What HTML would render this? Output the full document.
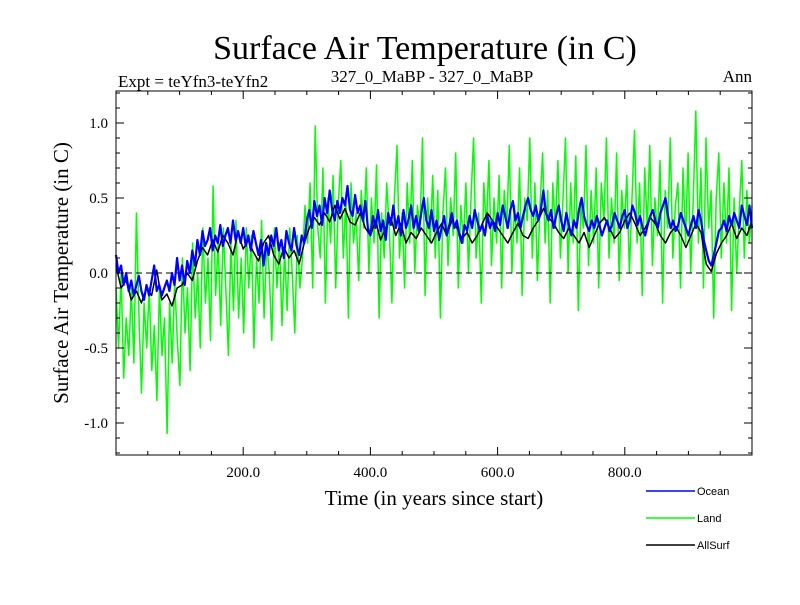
<!DOCTYPE html>
<html><head><meta charset="utf-8"><style>
body{margin:0;background:#fff;}
svg text{font-family:"Liberation Serif",serif;}
</style></head><body>
<svg id="chart" width="800" height="600">
<text x="425" y="59" font-size="34" text-anchor="middle">Surface Air Temperature (in C)</text>
<text x="118" y="87" font-size="17">Expt = teYfn3-teYfn2</text>
<text x="432" y="82" font-size="17" text-anchor="middle">327_0_MaBP - 327_0_MaBP</text>
<text x="752" y="82" font-size="17" text-anchor="end">Ann</text>
<text x="434" y="505" font-size="21" text-anchor="middle">Time (in years since start)</text>
<text transform="translate(68,273) rotate(-90)" font-size="21" text-anchor="middle">Surface Air Temperature (in C)</text>
<g id="plot"></g>
<g id="axes"></g>
<g>
<line x1="646" y1="491" x2="695" y2="491" stroke="#0000ff" stroke-width="1.5"/>
<text x="697" y="495" font-size="11" style="font-family:'Liberation Sans',sans-serif">Ocean</text>
<line x1="646" y1="518" x2="695" y2="518" stroke="#00ff00" stroke-width="1.5"/>
<text x="697" y="522" font-size="11" style="font-family:'Liberation Sans',sans-serif">Land</text>
<line x1="646" y1="545" x2="695" y2="545" stroke="#000" stroke-width="1.5"/>
<text x="697" y="549" font-size="11" style="font-family:'Liberation Sans',sans-serif">AllSurf</text>
</g>
</svg>
<script>
const xTicks=[200,400,600,800];
const xTickLabels=["200.0","400.0","600.0","800.0"];
const yTicks=[1.0,0.5,0.0,-0.5,-1.0];
const yTickLabels=["1.0","0.5","0.0","-0.5","-1.0"];
const land=[-0.1,-0.5,0.0,-0.7,-0.3,-0.55,-0.1,-0.6,0.4,-0.3,-0.8,-0.2,-0.5,-0.1,-0.65,-0.35,-0.85,-0.1,-0.55,-0.3,-1.07,-0.2,-0.6,-0.05,-0.45,
-0.75,0.1,-0.4,-0.1,-0.65,0.2,-0.3,0.0,-0.5,0.3,-0.2,0.1,-0.45,0.58,-0.15,0.2,-0.35,0.3,-0.1,-0.55,0.2,-0.25,0.35,-0.3,0.1,
-0.4,0.3,-0.1,0.25,-0.5,0.1,-0.2,0.35,-0.3,0.2,0.0,-0.45,0.3,-0.1,0.2,-0.35,0.15,-0.25,0.3,0.0,-0.4,0.25,-0.1,0.1,0.45,
0.2,0.6,-0.1,0.98,0.3,0.1,0.7,-0.2,0.5,0.2,0.65,-0.1,0.45,0.75,0.1,0.5,-0.3,0.6,0.2,0.4,-0.05,0.55,0.3,0.7,0.0,
0.5,0.2,0.72,-0.3,0.4,0.1,0.6,0.3,-0.2,0.5,0.85,0.1,0.4,-0.1,0.6,0.2,0.75,0.0,0.45,0.3,0.9,-0.15,0.5,0.2,0.65,
0.1,0.55,-0.3,0.4,0.7,0.05,0.5,0.25,0.8,-0.1,0.45,0.2,0.6,0.0,0.5,0.9,0.1,0.4,-0.2,0.6,0.3,0.75,0.05,0.5,0.2,
0.65,-0.1,0.55,0.3,0.85,0.0,0.45,0.2,0.7,-0.15,0.5,0.35,0.9,0.1,0.6,-0.05,0.45,0.8,0.2,0.55,-0.2,0.6,0.3,0.75,0.1,
0.5,0.9,0.0,0.6,0.2,0.78,-0.25,0.45,0.3,0.85,0.05,0.55,0.2,0.7,-0.1,0.6,0.35,0.9,0.1,0.5,0.2,0.8,-0.05,0.55,0.3,
0.65,0.0,0.5,0.95,0.2,0.6,-0.15,0.7,0.3,0.85,0.05,0.5,0.25,0.75,-0.2,0.55,0.3,0.9,0.1,0.45,0.6,-0.1,0.7,0.2,0.8,
0.0,0.5,1.08,0.2,0.7,-0.1,0.9,0.3,0.55,-0.3,0.5,0.8,0.1,0.6,0.2,0.7,-0.25,0.5,0.0,0.4,0.75,0.1,0.55,0.2,0.45];
const allSurf=[0.05,-0.1,-0.05,-0.18,-0.12,-0.2,-0.1,-0.15,0.02,-0.18,-0.14,-0.22,-0.1,-0.08,0.0,-0.05,0.08,0.17,0.12,0.22,0.14,0.25,0.2,0.12,0.27,0.16,0.22,0.14,0.08,0.2,0.25,0.12,0.06,0.17,0.1,0.15,0.06,0.2,0.3,0.37,0.32,0.4,0.34,0.45,0.36,0.43,0.34,0.32,0.4,0.3,0.25,0.35,0.22,0.3,0.37,0.25,0.33,0.2,0.27,0.23,0.3,0.25,0.2,0.27,0.33,0.25,0.35,0.3,0.23,0.27,0.2,0.25,0.33,0.4,0.35,0.3,0.25,0.2,0.27,0.33,0.25,0.23,0.3,0.35,0.43,0.37,0.33,0.27,0.23,0.3,0.25,0.2,0.27,0.17,0.25,0.33,0.37,0.3,0.23,0.27,0.35,0.4,0.33,0.25,0.3,0.37,0.33,0.25,0.2,0.27,0.31,0.25,0.17,0.25,0.33,0.27,0.06,0.01,0.13,0.2,0.25,0.33,0.23,0.3,0.25,0.35];
const ocean=[0.12,0.0,0.05,-0.08,0.0,-0.12,-0.05,-0.15,-0.08,-0.02,-0.12,-0.18,-0.08,-0.15,-0.05,0.05,-0.12,-0.08,-0.15,-0.1,-0.05,-0.12,0.0,-0.08,0.1,
-0.05,0.05,-0.08,0.08,0.0,0.15,0.05,0.22,0.12,0.28,0.18,0.22,0.3,0.15,0.25,0.2,0.32,0.18,0.25,0.3,0.2,0.35,0.22,0.28,0.2,
0.3,0.18,0.25,0.15,0.28,0.2,0.12,0.22,0.05,0.2,0.12,0.25,0.18,0.3,0.15,0.22,0.1,0.28,0.2,0.15,0.3,0.18,0.12,0.25,0.2,
0.35,0.42,0.3,0.48,0.38,0.45,0.32,0.5,0.4,0.55,0.42,0.35,0.48,0.4,0.5,0.45,0.58,0.42,0.38,0.52,0.4,0.45,0.35,0.48,0.3,
0.25,0.38,0.3,0.42,0.28,0.35,0.22,0.4,0.32,0.45,0.3,0.38,0.25,0.42,0.3,0.36,0.45,0.3,0.38,0.28,0.4,0.5,0.35,0.3,0.42,
0.28,0.35,0.22,0.3,0.38,0.25,0.32,0.4,0.3,0.35,0.25,0.2,0.32,0.28,0.38,0.3,0.42,0.35,0.28,0.32,0.25,0.38,0.3,0.35,0.28,
0.4,0.32,0.45,0.38,0.3,0.42,0.48,0.35,0.4,0.3,0.38,0.45,0.5,0.42,0.38,0.45,0.35,0.42,0.55,0.4,0.35,0.42,0.3,0.38,0.45,
0.35,0.28,0.4,0.32,0.25,0.35,0.3,0.42,0.5,0.38,0.32,0.28,0.35,0.3,0.38,0.32,0.25,0.3,0.35,0.28,0.32,0.4,0.35,0.3,0.38,
0.42,0.3,0.35,0.45,0.4,0.32,0.38,0.3,0.25,0.32,0.38,0.42,0.35,0.3,0.4,0.45,0.5,0.38,0.3,0.35,0.28,0.32,0.4,0.35,0.3,
0.25,0.32,0.38,0.3,0.42,0.35,0.22,0.15,0.08,0.05,0.12,0.2,0.28,0.3,0.35,0.28,0.38,0.32,0.4,0.35,0.3,0.45,0.38,0.32,0.45,0.3];
const L=116,R=752,T=91,B=455;
const xMin=0,xMax=1000,yZero=273,yPer=150;
const X=v=>L+(v-xMin)/(xMax-xMin)*(R-L);
const Y=v=>yZero-v*yPer;
const NS="http://www.w3.org/2000/svg";
const plot=document.getElementById('plot'),axes=document.getElementById('axes');
function mk(tag,attrs,parent){const e=document.createElementNS(NS,tag);for(const k in attrs)e.setAttribute(k,attrs[k]);parent.appendChild(e);return e;}
function series(arr,color,w,name){
  const step=(xMax-xMin)/(arr.length-1);
  const d=arr.map((v,i)=>(i?'L':'M')+X(xMin+i*step).toFixed(1)+' '+Y(v).toFixed(1)).join(' ');
  const p=mk('path',{d:d,fill:'none',stroke:color,'stroke-width':w,'stroke-linejoin':'round'},plot);
  
  
}
series(land,'#00ff00',1.5,'land-line');
const zl=mk('line',{x1:L,x2:R,y1:Y(0),y2:Y(0),stroke:'#000','stroke-width':1,'stroke-dasharray':'6,4'},plot);


series(allSurf,'#000',1.5,'allsurf-line');
series(ocean,'#0000ff',2.2,'ocean-line');
const frame=mk('rect',{x:L,y:T,width:R-L,height:B-T,fill:'none',stroke:'#000','stroke-width':1},axes);


for(let v=50;v<xMax;v+=50){const big=v%200===0;const len=big?8:4;
  mk('line',{x1:X(v),x2:X(v),y1:B,y2:B-len,stroke:'#000'},axes);
  mk('line',{x1:X(v),x2:X(v),y1:T,y2:T+len,stroke:'#000'},axes);}
for(let k=-12;k<=12;k++){const v=k/10;const big=k%5===0;const len=big?8:4;const y=Y(v);
  if(y<T||y>B)continue;
  mk('line',{x1:L,x2:L+len,y1:y,y2:y,stroke:'#000'},axes);
  mk('line',{x1:R,x2:R-len,y1:y,y2:y,stroke:'#000'},axes);}
xTicks.forEach((v,i)=>{const t=mk('text',{x:X(v),y:B+22,'font-size':15,'text-anchor':'middle'},axes);t.textContent=xTickLabels[i];
  
  });
yTicks.forEach((v,i)=>{const t=mk('text',{x:L-8,y:Y(v)+5,'font-size':15,'text-anchor':'end'},axes);t.textContent=yTickLabels[i];
  
  });
</script>
</body></html>
